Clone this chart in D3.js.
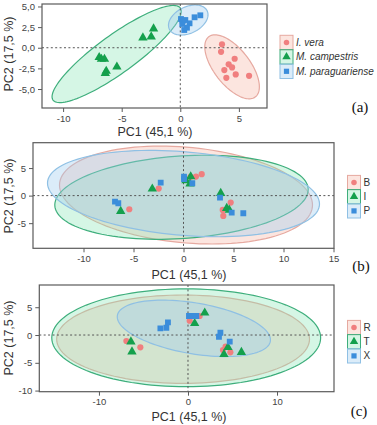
<!DOCTYPE html>
<html><head><meta charset="utf-8">
<script src="https://cdn.jsdelivr.net/npm/d3@7/dist/d3.min.js"></script>
<style>body{margin:0;background:#fff}svg{display:block}</style>
</head><body>
<svg id="c" width="377" height="425"></svg>
<script>
// ---------- DATA ----------
// Panel (a)
const aLabels = ["I. vera", "M. campestris", "M. paraguariense"];
const aVera = [[3.56,0.41],[3.48,-0.49],[4.64,-1.33],[4.13,-2.01],[4.42,-2.38],[3.76,-2.71],[4.73,-3.23],[5.87,-3.40],[3.93,-3.64]];
const aCamp = [[-6.92,-1.17],[-6.73,-1.37],[-6.47,-1.37],[-5.41,-2.31],[-6.32,-2.83],[-6.40,-3.11],[-3.19,1.21],[-2.48,1.33],[-2.28,2.31]];
const aPara = [[0.06,3.48],[0.23,3.28],[0.43,3.36],[1.22,3.69],[1.71,3.93],[0.79,2.96],[0.57,2.43],[0.34,2.15],[0.17,2.88]];
// ellipses: [cx, cy, ux, uy, vx, vy] (centre + conjugate semi-axes, data units)
const aEllVera = [4.42,-2.31,1.99,-3.64,1.21,1.33];
const aEllCamp = [-5.43,-0.76,5.43,5.58,0.95,-1.87];
const aEllPara = [0.68,3.36,1.62,1.09,0.47,-1.46];
const aXTicks = [-10,-5,0,5];
const aYTicks = [-5,-2.5,0,2.5,5];

// Panel (b)
const bLabels = ["B", "I", "P"];
const bB = [[-5.42,-2.47],[-2.48,1.27],[0.7,3.4],[1.25,3.45],[1.82,3.89],[4.72,-1.27],[3.92,-2.6],[3.98,-3.69]];
const bI = [[-6.28,-2.84],[-3.12,1.22],[0.25,2.73],[0.65,2.13],[0.72,3.45],[3.72,0.44],[4.32,-2.29],[4.58,-2.6]];
const bP = [[-6.85,-1.09],[-6.52,-1.38],[-2.28,2.36],[0.05,3.45],[0.05,2.98],[0.88,2.25],[3.65,-0.36],[4.82,-3.09],[5.98,-3.2]];
const bEllB = [0.25,0.1,12.65,-1.8,0,8.7];
const bEllI = [-0.2,-0.3,12.67,1.4,0,7.5];
const bEllP = [0,0.37,13.6,-1.9,0,7.6];
const bXTicks = [-10,-5,0,5,10,15];
const bYTicks = [-5,0,5];

// Panel (c)
const cLabels = ["R", "T", "X"];
const cR = [[-6.92,-1.08],[-5.35,-2.21],[0.19,2.57],[1.31,3.42],[3.93,-2.7],[4.76,-3.11],[4.22,-2.1]];
const cT = [[-6.41,-1.2],[-6.29,-3.0],[0.75,2.1],[1.88,4.0],[4.49,-2.21],[4.04,-3.47],[6.0,-3.1]];
const cX = [[-3.1,1.2],[-2.43,1.31],[-2.25,2.28],[0.11,3.42],[0.49,3.42],[0.94,3.42],[3.64,0.41],[3.48,-0.31],[4.69,-1.2]];
const cEllR = [-0.55,-0.75,14.2,0,0,7.95];
const cEllT = [-0.2,-0.5,15.1,0,0,8.8];
const cEllX = [0.66,1.2,8.52,-2.7,1.2,4.3];
const cXTicks = [-10,0,10];
const cYTicks = [-10,-5,0,5];

const xTitle = "PC1 (45,1 %)";
const yTitle = "PC2 (17,5 %)";
const panelTags = ["(a)", "(b)", "(c)"];

// ---------- STYLE ----------
const RED = {pt:"#f07f7f", fill:"rgba(247,190,175,0.40)", stroke:"#e6a9a0", sym:d3.symbolCircle, size:30};
const GRN = {pt:"#14a04c", fill:"rgba(128,228,176,0.33)", stroke:"#3eae7c", sym:d3.symbolTriangle, size:38};
const BLU = {pt:"#3b8ddb", fill:"rgba(160,206,240,0.38)", stroke:"#8fc0e4", sym:d3.symbolSquare, size:34};

const loc = d3.formatLocale({decimal:",", thousands:".", grouping:[3], currency:["",""], minus:"-"});
const fmt1 = loc.format(".1f"), fmt0 = loc.format("d");

const svg = d3.select("#c");
const FONT = "Liberation Sans, Arial, sans-serif";

function drawPanel(p) {
  const x = d3.scaleLinear().domain(p.xd).range([p.l, p.r]);
  const y = d3.scaleLinear().domain(p.yd).range([p.b, p.t]);
  const g = svg.append("g");
  const clipId = "clip" + p.tag.replace(/\W/g,"");
  g.append("clipPath").attr("id", clipId).append("rect")
    .attr("x", p.l).attr("y", p.t).attr("width", p.r - p.l).attr("height", p.b - p.t);
  const inner = g.append("g").attr("clip-path", `url(#${clipId})`);

  // ellipses
  const ts = d3.range(0, 361, 3).map(d => d * Math.PI / 180);
  p.series.forEach(s => {
    const e = s.ell;
    const pts = ts.map(t => [x(e[0] + e[2]*Math.cos(t) + e[4]*Math.sin(t)),
                             y(e[1] + e[3]*Math.cos(t) + e[5]*Math.sin(t))]);
    inner.append("path").attr("d", d3.line()(pts) + "Z")
      .attr("fill", s.st.fill).attr("stroke", s.st.stroke).attr("stroke-width", 1.2);
  });
  // zero lines
  inner.append("line").attr("x1", x(0)).attr("x2", x(0)).attr("y1", p.t).attr("y2", p.b)
    .attr("stroke", "#555").attr("stroke-width", 1).attr("stroke-dasharray", "2,2.4");
  inner.append("line").attr("x1", p.l).attr("x2", p.r).attr("y1", y(0)).attr("y2", y(0))
    .attr("stroke", "#555").attr("stroke-width", 1).attr("stroke-dasharray", "2,2.4");
  // points
  p.series.forEach(s => {
    inner.selectAll(null).data(s.pts).enter().append("path")
      .attr("d", d3.symbol().type(s.st.sym).size(s.st.size))
      .attr("transform", d => `translate(${x(d[0])},${y(d[1])})`)
      .attr("fill", s.st.pt);
  });
  // frame
  g.append("rect").attr("x", p.l).attr("y", p.t).attr("width", p.r - p.l).attr("height", p.b - p.t)
    .attr("fill", "none").attr("stroke", "#5a5a5a").attr("stroke-width", 1.2);
  // axes
  const xa = d3.axisBottom(x).tickValues(p.xt).tickSize(4).tickSizeOuter(0).tickPadding(3).tickFormat(fmt0);
  const ya = d3.axisLeft(y).tickValues(p.yt).tickSize(4).tickSizeOuter(0).tickPadding(3).tickFormat(p.yfmt);
  const gx = g.append("g").attr("transform", `translate(0,${p.b})`).call(xa);
  const gy = g.append("g").attr("transform", `translate(${p.l},0)`).call(ya);
  [gx, gy].forEach(a => {
    a.select(".domain").remove();
    a.selectAll("line").attr("stroke", "#5a5a5a");
    a.selectAll("text").attr("fill", "#444").style("font-family", FONT).style("font-size", "9.5px");
  });
  // titles
  g.append("text").attr("x", p.xtx).attr("y", p.xty).attr("text-anchor", "middle")
    .style("font-family", FONT).style("font-size", "12.5px").attr("fill", "#333").text(xTitle);
  g.append("text").attr("transform", `translate(${p.ytx},${p.yty}) rotate(-90)`).attr("text-anchor", "middle")
    .style("font-family", FONT).style("font-size", "12.5px").attr("fill", "#333").text(yTitle);
  // legend
  p.series.forEach((s, i) => {
    const cy = p.legY + i * p.legDy;
    g.append("rect").attr("x", p.legX).attr("y", cy - p.legDy/2).attr("width", 13).attr("height", p.legDy)
      .attr("fill", s.st.fill).attr("stroke", s.st.stroke).attr("stroke-width", 1);
    g.append("path").attr("d", d3.symbol().type(s.st.sym).size(s.st.size*0.8)())
      .attr("transform", `translate(${p.legX + 6.5},${cy})`).attr("fill", s.st.pt);
    g.append("text").attr("x", p.legX + 16).attr("y", cy + 3.5)
      .style("font-family", FONT).style("font-size", "10px").style("font-style", p.italic ? "italic" : "normal")
      .attr("fill", "#333").text(p.labels[i]);
  });
  // tag
  g.append("text").attr("x", p.tagX).attr("y", p.tagY).attr("text-anchor", "middle")
    .style("font-family", "Liberation Serif, Times New Roman, serif").style("font-size", "15px")
    .attr("fill", "#111").text(p.tag);
}

drawPanel({
  l:42, r:267, t:4, b:108, xd:[-11.8,7.4], yd:[-7.3,5.3], xt:aXTicks, yt:aYTicks, yfmt:fmt1,
  series:[{pts:aVera, ell:aEllVera, st:RED},{pts:aCamp, ell:aEllCamp, st:GRN},{pts:aPara, ell:aEllPara, st:BLU}],
  labels:aLabels, italic:true, legX:280, legY:42.5, legDy:14.4,
  xtx:155, xty:136, ytx:13, yty:54, tag:panelTags[0], tagX:360, tagY:112
});
drawPanel({
  l:33, r:334, t:142.7, b:248.3, xd:[-15.05,15.05], yd:[-9.56,9.6], xt:bXTicks, yt:bYTicks, yfmt:fmt0,
  series:[{pts:bB, ell:bEllB, st:RED},{pts:bI, ell:bEllI, st:GRN},{pts:bP, ell:bEllP, st:BLU}],
  labels:bLabels, italic:false, legX:347.5, legY:182.5, legDy:14.2,
  xtx:189, xty:279, ytx:13, yty:196, tag:panelTags[1], tagX:361, tagY:271
});
drawPanel({
  l:39.3, r:334, t:285, b:391.7, xd:[-16.7,16.4], yd:[-10.2,9.0], xt:cXTicks, yt:cYTicks, yfmt:fmt0,
  series:[{pts:cR, ell:cEllR, st:RED},{pts:cT, ell:cEllT, st:GRN},{pts:cX, ell:cEllX, st:BLU}],
  labels:cLabels, italic:false, legX:347.5, legY:327.5, legDy:14.2,
  xtx:189, xty:421, ytx:13, yty:338, tag:panelTags[2], tagX:359, tagY:416
});
</script>
</body></html>
